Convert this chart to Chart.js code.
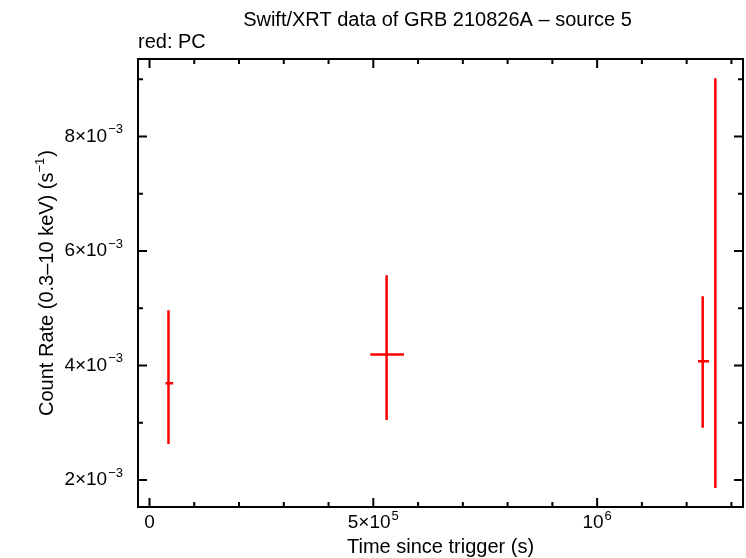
<!DOCTYPE html>
<html>
<head>
<meta charset="utf-8">
<script src="https://cdn.jsdelivr.net/npm/chart.js@4/dist/chart.umd.min.js"></script>
<style>
  html, body { margin: 0; padding: 0; background: #fff; }
  #wrap { width: 746px; height: 558px; }
</style>
</head>
<body>
<div id="wrap"><canvas id="lc" width="746" height="558"></canvas></div>
<script>
// light curve points (time in s, rate in counts/s)
const times   = [42400, 529700, 1235900, 1264100];
const timeLo  = [35700, 493300, 1225400, 1264100];
const timeHi  = [52900, 568500, 1250000, 1264100];
const rates   = [3.692e-3, 4.193e-3, 4.076e-3, 5.44e-3];
const rateLo  = [2.628e-3, 3.047e-3, 2.912e-3, 1.86e-3];
const rateHi  = [4.965e-3, 5.576e-3, 5.209e-3, 9.017e-3];

// axis ticks
const xMajor = [0, 500000, 1000000];
const xMajorLabels = [['0', ''], ['5×10', '5'], ['10', '6']];
const xMinor = [100000, 200000, 300000, 400000, 600000, 700000, 800000, 900000, 1100000, 1200000, 1300000];
const yMajor = [0.002, 0.004, 0.006, 0.008];
const yMajorLabels = [['2×10', '−3'], ['4×10', '−3'], ['6×10', '−3'], ['8×10', '−3']];
const yMinor = [0.003, 0.005, 0.007, 0.009];

const FONT = '"Liberation Sans", Arial, Helvetica, sans-serif';
const RED = '#ff0000';

// text with a raised exponent
function supText(ctx, base, sup, x, y, align, size) {
    const ss = Math.round(size * 0.68);
    ctx.font = size + 'px ' + FONT;
    const wb = ctx.measureText(base).width;
    ctx.font = ss + 'px ' + FONT;
    const ws = sup ? ctx.measureText(sup).width + 1 : 0;
    const w = wb + ws;
    let x0 = x;
    if (align === 'center') x0 = x - w / 2;
    else if (align === 'right') x0 = x - w;
    ctx.textAlign = 'left';
    ctx.textBaseline = 'middle';
    ctx.font = size + 'px ' + FONT;
    ctx.fillText(base, x0, y);
    if (sup) {
        ctx.font = ss + 'px ' + FONT;
        ctx.fillText(sup, x0 + wb + 1, y - size * 0.36);
    }
}

const errorBars = {
    id: 'errorBars',
    afterDatasetsDraw(chart) {
        const ctx = chart.ctx;
        const xs = chart.scales.x, ys = chart.scales.y;
        ctx.save();
        ctx.strokeStyle = RED;
        ctx.lineWidth = 2.5;
        ctx.lineCap = 'butt';
        for (let i = 0; i < times.length; i++) {
            const px = xs.getPixelForValue(times[i]);
            const py = ys.getPixelForValue(rates[i]);
            ctx.beginPath();
            ctx.moveTo(px, ys.getPixelForValue(rateLo[i]));
            ctx.lineTo(px, ys.getPixelForValue(rateHi[i]));
            const x1 = xs.getPixelForValue(timeLo[i]);
            const x2 = xs.getPixelForValue(timeHi[i]);
            if (x2 - x1 > 1) {
                ctx.moveTo(x1, py);
                ctx.lineTo(x2, py);
            }
            ctx.stroke();
        }
        ctx.restore();
    }
};

const frame = {
    id: 'frame',
    afterDraw(chart) {
        const ctx = chart.ctx;
        const a = chart.chartArea;
        const xs = chart.scales.x, ys = chart.scales.y;
        ctx.save();
        ctx.strokeStyle = '#000';
        ctx.fillStyle = '#000';
        ctx.lineWidth = 2;
        ctx.strokeRect(a.left, a.top, a.right - a.left, a.bottom - a.top);

        ctx.beginPath();
        const tick = (vals, len) => {
            vals.forEach(v => {
                const px = xs.getPixelForValue(v);
                ctx.moveTo(px, a.bottom); ctx.lineTo(px, a.bottom - len);
                ctx.moveTo(px, a.top); ctx.lineTo(px, a.top + len);
            });
        };
        const ytick = (vals, len) => {
            vals.forEach(v => {
                const py = ys.getPixelForValue(v);
                ctx.moveTo(a.left, py); ctx.lineTo(a.left + len, py);
                ctx.moveTo(a.right, py); ctx.lineTo(a.right - len, py);
            });
        };
        tick(xMajor, 9); tick(xMinor, 5);
        ytick(yMajor, 9); ytick(yMinor, 5);
        ctx.stroke();

        xMajor.forEach((v, i) => {
            supText(ctx, xMajorLabels[i][0], xMajorLabels[i][1], xs.getPixelForValue(v), a.bottom + 16, 'center', 19);
        });
        yMajor.forEach((v, i) => {
            supText(ctx, yMajorLabels[i][0], yMajorLabels[i][1], a.left - 15, ys.getPixelForValue(v), 'right', 19);
        });

        const cx = (a.left + a.right) / 2;
        ctx.font = '20px ' + FONT;
        ctx.textAlign = 'center';
        ctx.textBaseline = 'middle';
        ctx.fillText('Swift/XRT data of GRB 210826A \u2013 source 5', cx - 3, 20);
        ctx.fillText('Time since trigger (s)', cx, a.bottom + 40);
        ctx.textAlign = 'left';
        ctx.fillText('red: PC', a.left, 42);

        ctx.translate(47, (a.top + a.bottom) / 2);
        ctx.rotate(-Math.PI / 2);
        ctx.font = '20px ' + FONT;
        const ylab = 'Count Rate (0.3\u201310 keV) (s';
        const w1 = ctx.measureText(ylab).width;
        ctx.font = '13px ' + FONT;
        const w2 = ctx.measureText('\u22121').width + 1;
        ctx.font = '20px ' + FONT;
        const w3 = ctx.measureText(')').width;
        let x0 = -(w1 + w2 + w3) / 2;
        ctx.fillText(ylab, x0, 0);
        ctx.font = '13px ' + FONT;
        ctx.fillText('\u22121', x0 + w1, -7);
        ctx.font = '20px ' + FONT;
        ctx.fillText(')', x0 + w1 + w2, 0);
        ctx.restore();
    }
};

new Chart(document.getElementById('lc'), {
    type: 'scatter',
    data: {
        datasets: [{
            label: 'PC',
            data: times.map((t, i) => ({ x: t, y: rates[i] })),
            pointRadius: 0,
            showLine: false
        }]
    },
    options: {
        responsive: false,
        animation: false,
        layout: { padding: { left: 138, right: 3, top: 59, bottom: 51 } },
        plugins: { legend: { display: false }, tooltip: { enabled: false }, title: { display: false } },
        scales: {
            x: { type: 'linear', display: false, min: -25700, max: 1325900 },
            y: { type: 'linear', display: false, min: 1.529e-3, max: 9.352e-3 }
        }
    },
    plugins: [errorBars, frame]
});
</script>
</body>
</html>
